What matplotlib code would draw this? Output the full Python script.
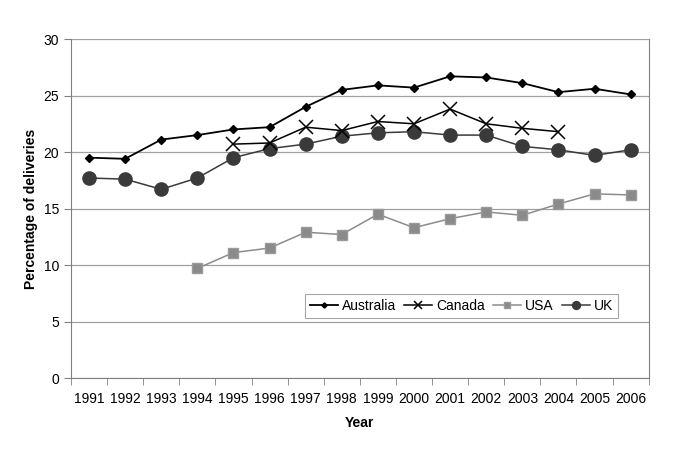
import numpy as np
import matplotlib
matplotlib.use("Agg")
import matplotlib.pyplot as plt

plt.rcParams['font.family'] = ['Liberation Sans', 'DejaVu Sans']

years = list(range(1991, 2007))
australia = [19.5, 19.4, 21.1, 21.5, 22.0, 22.2, 24.0, 25.5, 25.9, 25.7, 26.7, 26.6, 26.1, 25.3, 25.6, 25.1]
canada_years = list(range(1995, 2005))
canada = [20.7, 20.8, 22.2, 21.9, 22.7, 22.5, 23.8, 22.5, 22.1, 21.8]
usa_years = list(range(1994, 2007))
usa = [9.7, 11.1, 11.5, 12.9, 12.7, 14.5, 13.3, 14.1, 14.7, 14.4, 15.4, 16.3, 16.2]
uk = [17.7, 17.6, 16.7, 17.7, 19.5, 20.3, 20.7, 21.4, 21.7, 21.8, 21.5, 21.5, 20.5, 20.2, 19.7, 20.2]


def pos(ys):
    return [years.index(y) for y in ys]


fig = plt.figure(figsize=(6.85, 4.54), dpi=100)
ax = fig.add_axes([0.1036, 0.1674, 0.8434, 0.7466])

ax.plot(pos(years), australia, color='black', lw=1.3, marker='D', ms=4.5,
        label='Australia', zorder=5)
ax.plot(pos(canada_years), canada, color='black', lw=1.1, marker='x', ms=10,
        mew=1.1, label='Canada', zorder=4)
ax.plot(pos(usa_years), usa, color='#8c8c8c', lw=1.1, marker='s', ms=7.5,
        mfc='#8a8a8a', mec='#9a9a9a', label='USA', zorder=3)
ax.plot(pos(years), uk, color='#3a3a3a', lw=1.1, marker='o', ms=9.5,
        mfc='#3a3a3a', mec='#3a3a3a', label='UK', zorder=3)

ax.set_xlim(-0.5, len(years) - 0.5)
ax.set_ylim(0, 30)
ax.set_yticks(range(0, 31, 5))
ax.set_xticks(range(len(years)))
ax.set_xticklabels([str(y) for y in years])
ax.set_xticks(np.arange(-0.5, len(years), 1), minor=True)
ax.tick_params(axis='x', which='major', length=0, pad=10, labelsize=10)
ax.tick_params(axis='x', which='minor', length=5, color='#808080')
ax.tick_params(axis='y', length=5, color='#808080', labelsize=10, direction='out')

ax.grid(axis='y', color='#a0a0a0', lw=0.9)
ax.set_axisbelow(True)
for s in ['left', 'bottom', 'right']:
    ax.spines[s].set_color('#808080')
ax.spines['top'].set_visible(False)

ax.set_xlabel('Year', fontweight='bold', fontsize=10, labelpad=7)
ax.set_ylabel('Percentage of deliveries', fontweight='bold', fontsize=10)

leg = ax.legend(ncol=4, loc='lower left', bbox_to_anchor=(0.405, 0.177),
                borderaxespad=0, markerscale=0.6,
                frameon=True, fancybox=False, fontsize=10, handlelength=2.0,
                columnspacing=0.6, handletextpad=0.3, borderpad=0.35)
leg.get_frame().set_edgecolor('#909090')
leg.get_frame().set_linewidth(0.8)

fig.savefig('out.png', dpi=100)
